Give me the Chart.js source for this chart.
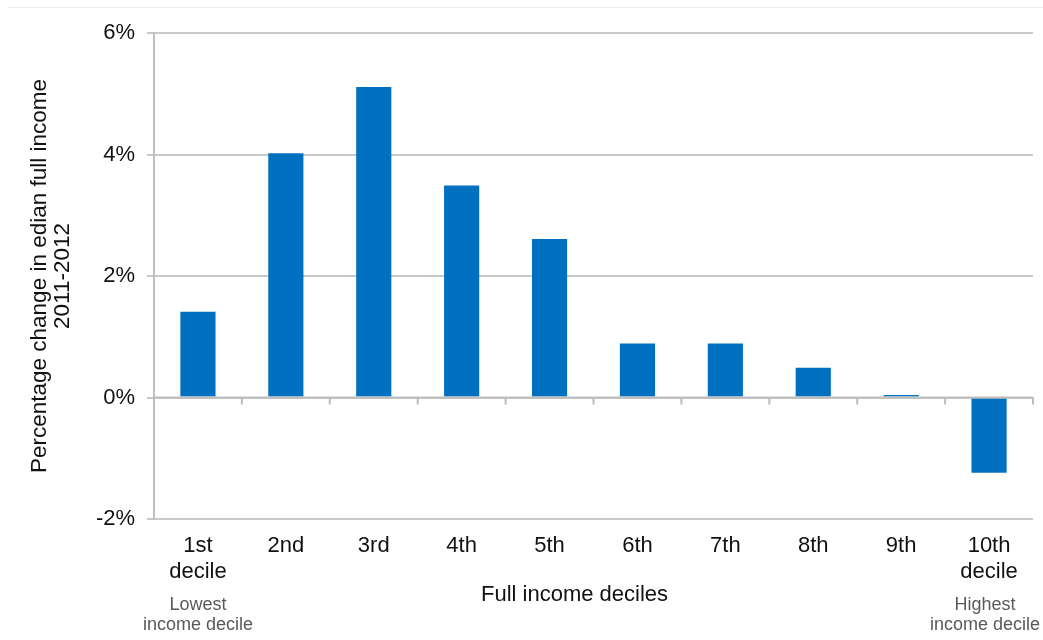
<!DOCTYPE html>
<html>
<head>
<meta charset="utf-8">
<script src="https://cdn.jsdelivr.net/npm/chart.js@4/dist/chart.umd.min.js"></script>
<style>
  html, body { margin: 0; padding: 0; background: #ffffff; }
  #wrap { position: relative; width: 1043px; height: 640px; }
</style>
</head>
<body>
<div id="wrap"><canvas id="c"></canvas></div>
<script>
const categories = [["1st", "decile"], "2nd", "3rd", "4th", "5th", "6th", "7th", "8th", "9th", ["10th", "decile"]];
const changeValues = [1.41, 4.02, 5.11, 3.49, 2.61, 0.89, 0.89, 0.49, 0.04, -1.24];
const yTicks = [-2, 0, 2, 4, 6];
const yTitle = ["Percentage change in edian full income", "2011-2012"];
const xTitle = "Full income deciles";
const lowNote = ["Lowest", "income decile"];
const highNote = ["Highest", "income decile"];

const FONT = "'Liberation Sans', Arial, sans-serif";
const GRID = '#c9c9c9';

const extras = {
  id: 'extras',
  beforeDraw(chart) {
    const ctx = chart.ctx;
    ctx.save();
    ctx.strokeStyle = '#ececec';
    ctx.lineWidth = 1;
    ctx.beginPath();
    ctx.moveTo(7, 7.5);
    ctx.lineTo(chart.width, 7.5);
    ctx.stroke();
    ctx.restore();
  },
  afterDatasetsDraw(chart) {
    const ctx = chart.ctx;
    const xs = chart.scales.x, ys = chart.scales.y;
    const area = chart.chartArea;
    const y0 = ys.getPixelForValue(0);
    ctx.save();
    ctx.strokeStyle = '#bdbdbd';
    ctx.lineWidth = 2;
    ctx.beginPath();
    ctx.moveTo(area.left, y0);
    ctx.lineTo(area.right, y0);
    const n = categories.length;
    for (let i = 0; i <= n; i++) {
      const px = area.left + (area.right - area.left) * i / n;
      ctx.moveTo(px, y0);
      ctx.lineTo(px, y0 + 7);
    }
    ctx.stroke();

    // x axis title
    ctx.fillStyle = '#111';
    ctx.font = "22px " + FONT;
    ctx.textAlign = 'center';
    ctx.textBaseline = 'middle';
    const midX = (area.left + area.right) / 2 - 19;
    ctx.fillText(xTitle, midX, area.bottom + 76);

    // notes
    ctx.fillStyle = '#595959';
    ctx.font = "18px " + FONT;
    const lx = xs.getPixelForValue(0);
    const hx = xs.getPixelForValue(n - 1) - 4;
    lowNote.forEach((t, i) => ctx.fillText(t, lx, area.bottom + 86 + i * 20));
    highNote.forEach((t, i) => ctx.fillText(t, hx, area.bottom + 86 + i * 20));
    ctx.restore();
  }
};

new Chart(document.getElementById('c'), {
  type: 'bar',
  data: {
    labels: categories,
    datasets: [{
      data: changeValues,
      backgroundColor: '#0070c0',
      borderWidth: 0,
      barPercentage: 0.4,
      categoryPercentage: 1.0
    }]
  },
  options: {
    responsive: true,
    maintainAspectRatio: false,
    animation: false,
    layout: { padding: { top: 33, right: 10, bottom: 0, left: 0 } },
    plugins: { legend: { display: false }, tooltip: { enabled: false } },
    scales: {
      x: {
        grid: { display: false, drawTicks: false },
        border: { display: false },
        ticks: {
          color: '#111',
          font: { family: FONT, size: 22, lineHeight: 1.18 },
          padding: 14,
          maxRotation: 0,
          autoSkip: false
        },
        afterFit(scale) { scale.height = 121; }
      },
      y: {
        min: -2,
        max: 6,
        afterBuildTicks(scale) { scale.ticks = yTicks.map(v => ({ value: v })); },
        grid: { color: GRID, lineWidth: 2, tickLength: 7, drawTicks: true },
        border: { display: true, color: '#c0c0c0', width: 2 },
        ticks: {
          color: '#111',
          font: { family: FONT, size: 22 },
          padding: 12,
          callback: v => v + '%'
        },
        title: {
          display: true,
          text: yTitle,
          color: '#111',
          font: { family: FONT, size: 22.5, lineHeight: 1.03 },
          padding: { top: 28, bottom: 0 }
        },
        afterFit(scale) { scale.width = 154; }
      }
    }
  },
  plugins: [extras]
});
</script>
</body>
</html>
